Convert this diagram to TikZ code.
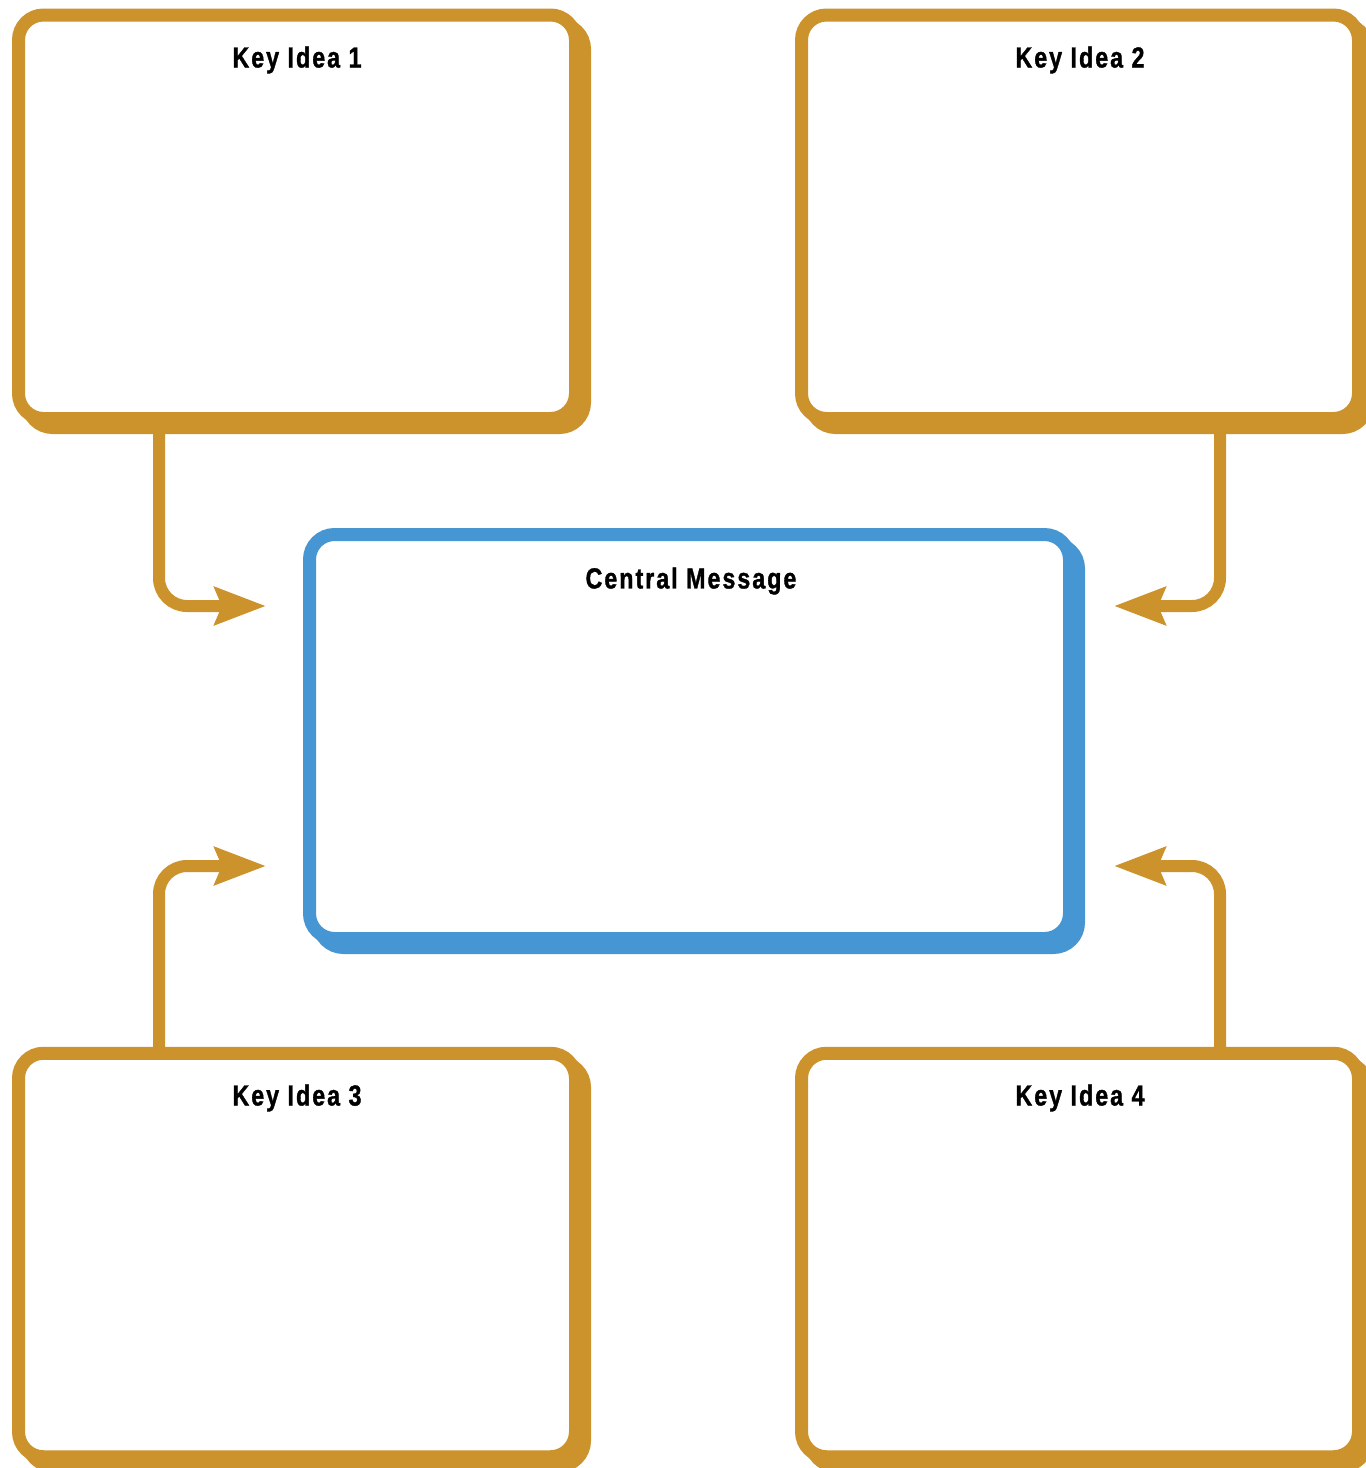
\documentclass[tikz,border=0pt]{standalone}
\usepackage{fontspec}
\setmainfont{Liberation Sans}
\newfontfamily\titlefont[FakeStretch=0.8,LetterSpace=7,FakeBold=1.2]{Liberation Sans Bold}
\usetikzlibrary{arrows.meta,calc}
\definecolor{gold}{HTML}{CC922B}
\definecolor{sky}{HTML}{4596D2}
\tikzset{
  box/.style={draw=#1, line width=6.5pt, fill=white, rounded corners=12.5pt,
    rectangle, inner sep=0pt, outer sep=0pt,
    preaction={draw=#1, fill=#1, line width=6.5pt, transform canvas={shift={(4.5pt,-4.5pt)}}}},
  keybox/.style={box=gold, minimum width=278.5pt, minimum height=201.75pt},
  centralbox/.style={box=sky, minimum width=380pt, minimum height=202pt},
  title/.style={font=\titlefont\fontsize{14.5pt}{16pt}\selectfont, text=black, inner sep=0pt},
  conn/.style={draw=gold, line width=6pt, rounded corners=14pt,
    -{Stealth[length=25.5pt, width=18.5pt, inset=3.5pt]}},
}
\begin{document}
\begin{tikzpicture}[x=0.5pt,y=-0.5pt]
\path[use as bounding box] (0,0) rectangle (1366,1468);
% boxes
\node[keybox] (b1) at (297,216.75) {};
\node[keybox] (b2) at (1080,216.75) {};
\node[keybox] (b3) at (297,1255) {};
\node[keybox] (b4) at (1080,1255) {};
\node[centralbox] (c) at (689.5,736.5) {};
% titles
\node[title] (t1) at (297,60) {Key Idea 1};
\node[title] (t2) at (1080,60) {Key Idea 2};
\node[title] (t3) at (297,1098) {Key Idea 3};
\node[title] (t4) at (1080,1098) {Key Idea 4};
\node[title] (tc) at (691,581) {Central Message};
% arrow targets
\coordinate (a1) at (266,606);
\coordinate (a2) at (1114,606);
\coordinate (a3) at (266,866);
\coordinate (a4) at (1114,866);
\coordinate (xl) at (159,0);
\coordinate (xr) at (1220,0);
% connectors
\draw[conn] (b1.south -| xl) |- (a1);
\draw[conn] (b2.south -| xr) |- (a2);
\draw[conn] (b3.north -| xl) |- (a3);
\draw[conn] (b4.north -| xr) |- (a4);
\end{tikzpicture}
\end{document}
